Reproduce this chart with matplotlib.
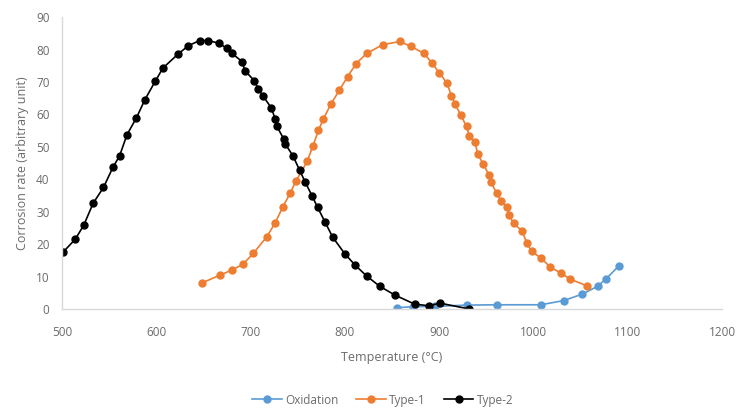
import matplotlib
matplotlib.use('Agg')
import matplotlib.pyplot as plt

# Oxidation
ox_t = [855, 872, 896, 929, 961, 1008, 1032, 1052, 1068, 1077, 1091]
ox_v = [0.4, 0.7, 0.8, 1.2, 1.3, 1.3, 2.6, 4.6, 7.0, 9.3, 13.4]

# Type-1
t1_t = [648, 668, 680, 692, 703, 717, 726, 734, 742, 748, 760, 766, 772, 777, 785,
        794, 803, 812, 823, 840, 858, 870, 884, 892, 900, 908, 913, 917, 923, 929,
        932, 938, 941, 947, 953, 955, 961, 966, 972, 974, 979, 988, 993, 998, 1008,
        1018, 1029, 1039, 1057]
t1_v = [8.0, 10.5, 12.0, 13.8, 17.2, 22.2, 26.5, 31.4, 35.7, 39.4, 45.5, 50.2, 55.1,
        58.5, 63.1, 67.4, 71.7, 75.7, 78.8, 81.5, 82.5, 81.0, 78.8, 76.0, 72.9, 69.8,
        65.8, 63.1, 59.8, 56.3, 53.5, 51.4, 47.7, 44.6, 41.2, 39.1, 35.7, 33.2, 31.4,
        28.9, 26.5, 24.0, 20.3, 17.8, 15.7, 12.9, 11.1, 9.2, 7.1]

# Type-2
t2_t = [501, 514, 523, 533, 544, 554, 561, 569, 579, 588, 599, 607, 623, 634, 646,
        655, 666, 675, 680, 691, 694, 704, 708, 713, 722, 726, 728, 735, 737, 745,
        752, 758, 765, 771, 779, 787, 800, 811, 823, 837, 853, 874, 889, 901, 932]
t2_v = [17.5, 21.5, 25.8, 32.6, 37.5, 43.7, 47.2, 53.8, 59.0, 64.6, 70.3, 74.3, 78.6,
        81.2, 82.8, 82.8, 82.0, 80.4, 78.9, 76.3, 73.5, 70.4, 67.9, 65.8, 62.0, 58.7,
        56.3, 52.5, 50.8, 47.2, 42.8, 39.1, 35.0, 31.4, 26.8, 22.2, 17.0, 13.5, 10.2,
        7.0, 4.3, 1.5, 1.0, 1.8, 0.0]

plt.rcParams['font.family'] = ['Open Sans', 'DejaVu Sans']
grey = '#6b6b6b'

fig = plt.figure(figsize=(7.4, 4.09), dpi=100)
ax = fig.add_axes([0.0838, 0.2445, 0.8919, 0.7135])

ax.plot(ox_t, ox_v, color='#5B9BD5', marker='o', markersize=5, linewidth=1.2, label='Oxidation')
ax.plot(t1_t, t1_v, color='#ED7D31', marker='o', markersize=5, linewidth=1.2, label='Type-1')
ax.plot(t2_t, t2_v, color='black', marker='o', markersize=5, linewidth=1.2, label='Type-2')

ax.set_xlim(500, 1200)
ax.set_ylim(0, 90)
ax.set_xticks(range(500, 1201, 100))
ax.set_yticks(range(0, 91, 10))
ax.tick_params(axis='x', length=0, labelsize=8.5, labelcolor=grey, pad=12)
ax.tick_params(axis='y', length=0, labelsize=8.5, labelcolor=grey, pad=9)

for s in ['top', 'right']:
    ax.spines[s].set_visible(False)
for s in ['left', 'bottom']:
    ax.spines[s].set_color('#d9d9d9')
    ax.spines[s].set_linewidth(1.0)

ax.set_xlabel('Temperature (°C)', fontsize=9, color=grey, labelpad=9)
ax.set_ylabel('Corrosion rate (arbitrary unit)', fontsize=9, color=grey, labelpad=5)

ax.legend(loc='center', bbox_to_anchor=(0.486, -0.312), ncol=3, frameon=False,
          fontsize=8.5, labelcolor=grey, handlelength=2.5, columnspacing=1.5,
          handletextpad=0.3)

fig.savefig('out.png', dpi=100)
